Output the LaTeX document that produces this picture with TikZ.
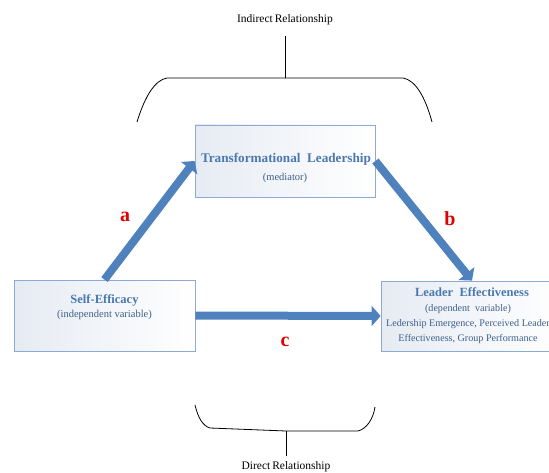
\documentclass[tikz,border=0pt]{standalone}
\usepackage{fontspec}
\setmainfont{Liberation Serif}
\usetikzlibrary{arrows.meta}
\definecolor{arrowblue}{HTML}{4F81BD}
\definecolor{boxline}{HTML}{8DAAD3}
\definecolor{boxfill}{HTML}{E6EBF3}
\definecolor{titleblue}{HTML}{4A78B0}
\definecolor{subblue}{HTML}{3E5F8C}
\definecolor{labelred}{HTML}{E00000}

\begin{document}
\begin{tikzpicture}[x=1pt,y=-1pt,
  box/.style={draw=boxline,line width=0.8pt,left color=boxfill,right color=white,inner sep=0pt},
  title/.style={font=\fontsize{12.5}{14}\selectfont\bfseries,text=titleblue,inner sep=0pt},
  sub/.style={font=\fontsize{10.5}{15}\selectfont,text=subblue,inner sep=0pt,align=center},
  path/.style={arrowblue,line width=8pt,-{Triangle[length=9pt,width=20pt]}},
  letter/.style={font=\fontsize{20}{20}\selectfont\bfseries,text=labelred,inner sep=0pt},
  brace/.style={line width=0.8pt},
  caption/.style={font=\fontsize{11.5}{13}\selectfont,inner sep=0pt}]
\useasboundingbox (0,0) rectangle (549,473);
\clip (0,0) rectangle (549,473);
% boxes
\node[box,minimum width=181pt,minimum height=71pt] (se) at (104.5,315.5) {};
\node[box,minimum width=180pt,minimum height=72pt] (tl) at (285,161) {};
\node[box,minimum width=182pt,minimum height=70pt] (le) at (472,316) {};
% box texts
\node[title] (seT) at (104.5,300) {Self-Efficacy};
\node[sub] (seS) at (104.5,315) {(independent variable)};
\node[title,font=\fontsize{13.2}{15}\selectfont\bfseries] (tlT) at (286,159) {Transformational\ \ Leadership};
\node[sub] (tlS) at (285,178) {(mediator)};
\node[title] (leT) at (472,292) {Leader\ \ Effectiveness};
\node[sub,anchor=north,font=\fontsize{10.1}{15}\selectfont] (leS) at (468,304.5) {(dependent\ \ variable)\\Ledership Emergence, Perceived Leader\\Effectiveness, Group Performance};
% paths
\draw[path] (se.north) -- (tl.west);
\draw[path] (tl.east) -- (le.north);
\draw[path] (se.east) -- (le.west);
\node[letter] (a) at (125,217) {a};
\node[letter] (b) at (450,219) {b};
\node[letter] (c) at (285,342) {c};
% brackets
\node[caption] (ind) at (285,20) {Indirect\,Relationship};
\coordinate (indtop) at (285,36);
\coordinate (indmid) at (285,78);
\draw[brace] (indtop) -- (indmid);
\draw[brace] (137,122) .. controls (145,96) and (155,80) .. (167,78) -- (403,78)
  .. controls (415,80) and (425,96) .. (432,122);
\node[caption] (dir) at (286,467) {Direct\,Relationship};
\coordinate (dirmid) at (286,431);
\coordinate (dirbot) at (286,456);
\draw[brace] (dirmid) -- (dirbot);
\draw[brace] (195,405) .. controls (198,418) and (203,426) .. (210,428) -- (dirmid) -- (358,431)
  .. controls (366,429) and (373,420) .. (375,407);
\end{tikzpicture}
\end{document}
